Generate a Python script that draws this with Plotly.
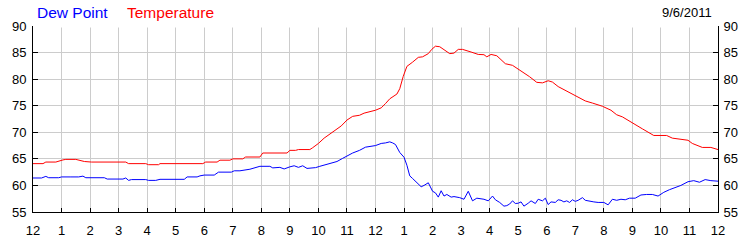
import plotly.graph_objects as go

# hours after midnight (0 = 12 AM, 24 = next 12 AM)
temp_hours = [0.0, 0.35, 0.45, 0.8, 1.05, 1.15, 1.5, 1.65, 1.8, 2.05, 3.25, 3.35, 3.95, 4.05, 4.4, 4.45,
              5.95, 6.05, 6.45, 6.55, 6.9, 7.0, 7.35, 7.45, 7.95, 8.05, 8.9, 9.0, 9.2, 9.3, 9.7, 9.8,
              10.0, 10.2, 10.5, 10.8, 11.0, 11.2, 11.44, 11.6, 12.0, 12.2, 12.35, 12.5, 12.75, 12.85,
              12.97, 13.1, 13.3, 13.5, 13.65, 13.85, 13.97, 14.1, 14.25, 14.45, 14.6, 14.75, 14.9, 15.05,
              15.2, 15.35, 15.6, 15.8, 15.9, 16.05, 16.25, 16.4, 16.55, 16.8, 17.1, 17.3, 17.4, 17.65,
              17.85, 18.05, 18.2, 18.4, 18.6, 18.9, 19.1, 19.35, 19.6, 19.95, 20.25, 20.45, 20.65,
              20.85, 21.1, 21.35, 21.75, 22.2, 22.4, 22.75, 22.95, 23.1, 23.45, 23.75, 24.0]
temperature = [64.1, 64.1, 64.4, 64.4, 64.8, 64.9, 64.9, 64.7, 64.5, 64.4, 64.4, 64.1, 64.1, 63.9, 63.9, 64.1,
               64.1, 64.4, 64.4, 64.75, 64.75, 65.0, 65.0, 65.35, 65.35, 66.1, 66.1, 66.6, 66.6, 66.75, 66.75, 67.1,
               67.9, 68.9, 70.0, 71.2, 72.3, 73.0, 73.2, 73.6, 74.15, 74.6, 75.4, 76.3, 77.2, 78.2,
               80.5, 82.4, 83.2, 84.1, 84.2, 84.8, 85.6, 86.2, 86.1, 85.4, 84.8, 84.9, 85.6, 85.6,
               85.4, 85.1, 84.65, 84.6, 84.2, 84.65, 84.4, 83.65, 82.9, 82.6, 81.6, 80.8, 80.45, 79.4,
               79.3, 79.7, 79.45, 78.6, 78.0, 77.2, 76.6, 75.9, 75.5, 74.9, 74.15, 73.3, 72.9,
               72.3, 71.5, 70.65, 69.4, 69.4, 68.9, 68.7, 68.5, 67.9, 67.15, 67.15, 66.75]

dew_hours = [0.0, 0.3, 0.45, 0.55, 0.9, 1.0, 1.3, 1.6, 1.75, 1.85, 2.5, 2.6, 3.15, 3.25, 3.35, 3.45,
             3.95, 4.05, 4.3, 4.45, 5.3, 5.4, 5.75, 5.85, 6.0, 6.35, 6.5, 6.95, 7.05, 7.25, 7.6, 7.75,
             7.95, 8.3, 8.4, 8.65, 8.8, 9.0, 9.15, 9.3, 9.45, 9.6, 9.75, 9.9, 10.05, 10.25, 10.45,
             10.65, 10.85, 11.05, 11.2, 11.44, 11.65, 12.0, 12.2, 12.35, 12.5, 12.6, 12.7, 12.85,
             13.0, 13.1, 13.2, 13.3, 13.45, 13.6, 13.7, 13.85, 14.0, 14.1, 14.2, 14.3, 14.4, 14.5,
             14.65, 14.75, 14.95, 15.1, 15.25, 15.4, 15.55, 15.65, 15.8, 15.95, 16.1, 16.2, 16.35,
             16.5, 16.6, 16.7, 16.8, 16.9, 17.0, 17.1, 17.2, 17.35, 17.45, 17.6, 17.7, 17.85, 17.95,
             18.05, 18.15, 18.3, 18.4, 18.5, 18.6, 18.7, 18.8, 18.9, 19.0, 19.1, 19.25, 19.35, 19.5,
             19.65, 19.8, 20.0, 20.15, 20.3, 20.45, 20.6, 20.75, 20.9, 21.1, 21.3, 21.5, 21.7, 21.9,
             22.1, 22.3, 22.5, 22.7, 22.95, 23.15, 23.35, 23.55, 23.75, 24.0]
dew_point = [61.4, 61.4, 61.7, 61.45, 61.45, 61.6, 61.6, 61.6, 61.75, 61.45, 61.45, 61.2, 61.2, 61.4, 60.95, 61.1,
             61.1, 60.95, 60.95, 61.15, 61.15, 61.6, 61.6, 61.8, 61.95, 61.95, 62.5, 62.5, 62.75, 62.75, 63.05, 63.3,
             63.6, 63.6, 63.3, 63.4, 63.1, 63.5, 63.7, 63.4, 63.7, 63.2, 63.3, 63.35, 63.6, 63.9, 64.1,
             64.5, 65.1, 65.7, 66.1, 66.6, 67.2, 67.5, 67.9, 68.0, 68.2, 68.0, 67.7, 66.2,
             65.3, 63.8, 61.8, 61.3, 60.5, 59.75, 60.0, 60.5, 58.9, 58.6, 57.8, 59.0, 58.0, 58.3,
             57.8, 57.9, 57.7, 57.4, 58.9, 57.1, 57.6, 57.5, 57.4, 57.1, 58.0, 57.3, 56.8,
             56.1, 56.2, 56.5, 57.1, 56.6, 56.65, 56.9, 56.1, 56.65, 57.1, 56.6, 57.4, 57.1, 57.6,
             56.4, 56.9, 56.8, 57.3, 57.2, 56.9, 57.1, 56.8, 57.3, 57.0, 57.2, 57.7, 57.2, 57.0,
             56.9, 56.8, 56.8, 56.35, 57.4, 57.2, 57.4, 57.3, 57.6, 57.6, 58.2, 58.3, 58.3, 58.0,
             58.7, 59.2, 59.6, 60.0, 60.7, 60.9, 60.6, 61.1, 60.9, 60.8]

hour_ticks = list(range(0, 25))
hour_labels = ["12", "1", "2", "3", "4", "5", "6", "7", "8", "9", "10", "11",
               "12", "1", "2", "3", "4", "5", "6", "7", "8", "9", "10", "11", "12"]
y_ticks = [55, 60, 65, 70, 75, 80, 85, 90]

FONT = "Liberation Sans, Arial, sans-serif"

W, H = 750, 250
L, R, T, B = 31, 29, 26, 24
PW, PH = W - L - R, H - T - B

fig = go.Figure()
fig.add_trace(go.Scatter(x=temp_hours, y=temperature, mode="lines", name="Temperature",
                         line=dict(color="#ff0000", width=1), yaxis="y2"))
fig.add_trace(go.Scatter(x=dew_hours, y=dew_point, mode="lines", name="Dew Point",
                         line=dict(color="#0000ff", width=1)))

def axis_style(ticklen, standoff):
    return dict(showline=True, linecolor="black", linewidth=1, ticks="inside", ticklen=ticklen,
                tickcolor="black", tickfont=dict(family=FONT, size=13, color="black"),
                zeroline=False, ticklabelstandoff=standoff)

fig.update_layout(
    width=W, height=H,
    margin=dict(l=L, r=R, t=T, b=B),
    paper_bgcolor="white", plot_bgcolor="white",
    showlegend=False,
    xaxis=dict(range=[0, 24], tickvals=hour_ticks, ticktext=hour_labels,
               showgrid=True, gridcolor="#cccccc", gridwidth=1, **axis_style(4, 6)),
    yaxis=dict(range=[55, 90], tickvals=y_ticks, showgrid=True, gridcolor="#cccccc", gridwidth=1,
               side="left", **axis_style(5, 3)),
    yaxis2=dict(range=[55, 90], tickvals=y_ticks, showgrid=False, overlaying="y", side="right",
                anchor="x", **axis_style(5, 2)),
    shapes=[dict(type="rect", xref="paper", yref="paper", x0=0.002, x1=0.998,
                 y0=1 - 1.5 / PH, y1=1 + 0.6 / PH, fillcolor="white", line=dict(width=0),
                 layer="above")],
)

legend_items = [("Dew Point", 33, "#0000ff", 15.5, "left"),
                ("Temperature", 124, "#ff0000", 15.5, "left"),
                ("9/6/2011", 717, "black", 13, "right")]
fig.update_layout(annotations=[
    dict(text=txt, showarrow=False, xref="paper", yref="paper",
         x=(px - L) / PW, y=(H - B - 12) / PH, xanchor=anc, yanchor="middle",
         font=dict(family=FONT, size=sz, color=col))
    for txt, px, col, sz, anc in legend_items
])

fig.write_html("out.html")
